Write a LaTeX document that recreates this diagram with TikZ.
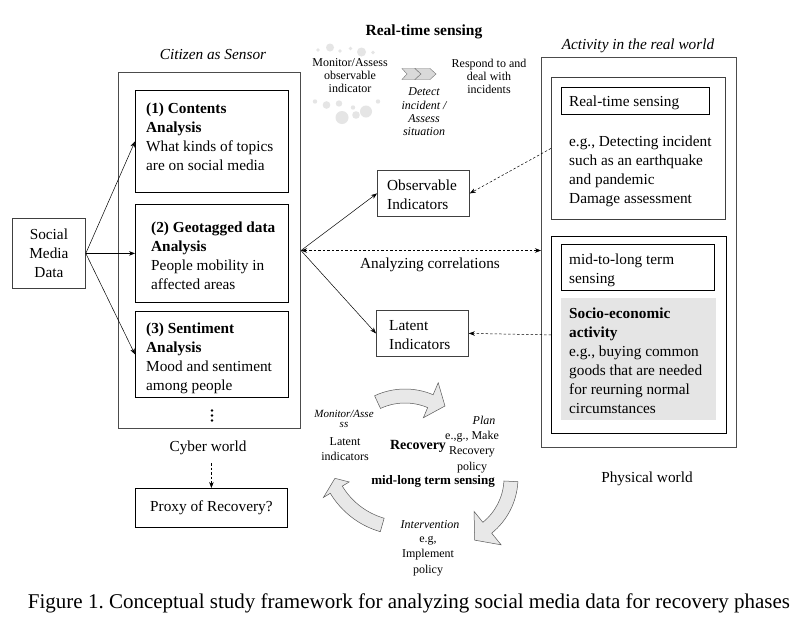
\documentclass[tikz,border=0pt]{standalone}
\usepackage{fontspec}
\setmainfont{Liberation Serif}
\usetikzlibrary{arrows.meta}
\frenchspacing
\begin{document}
\begin{tikzpicture}[x=1pt,y=-1pt,
 txt/.style={font=\fontsize{15.3pt}{19pt}\selectfont, inner sep=0pt, align=left, anchor=north west},
 ctr/.style={font=\fontsize{15.3pt}{19pt}\selectfont, inner sep=0pt, align=center},
 sm/.style={font=\fontsize{12pt}{13pt}\selectfont, inner sep=0pt, align=center},
 cy/.style={font=\fontsize{12pt}{15.5pt}\selectfont, inner sep=0pt, align=center},
 box/.style={draw=black, line width=0.8pt, inner sep=0pt, anchor=north west},
 obox/.style={draw=black!70, line width=1pt, inner sep=0pt, anchor=north west},
 arr/.style={-{Stealth[length=6pt,width=4.5pt]}, line width=0.5pt},
 darr/.style={arr, dash pattern=on 2.5pt off 2pt},
 ddarr/.style={{Stealth[length=6pt,width=4.5pt]}-{Stealth[length=6pt,width=4.5pt]}, line width=0.5pt, dash pattern=on 2.5pt off 2pt},
 cyc/.style={fill=black!9, draw=black!65, line width=0.5pt},
 dotc/.style={fill=black!10, draw=none},
 chev/.style={fill=black!15, draw=black!55, line width=0.4pt}]
\useasboundingbox (0,0) rectangle (809,619);
\fill[white] (0,0) rectangle (809,619);

% ---- top middle: real-time sensing ----
\foreach \px/\py/\r in {318/50/1.8, 330/47.5/4, 340/51/1.8, 350.5/48.5/1.8, 361.5/52/4.5, 373/52.5/1.8,
  315/101.5/2.2, 326.5/105/3.8, 339/103.5/3.2, 353/107.5/2.2, 366/111.5/6, 378/101.5/2.2, 342/117.5/6.5, 356/115/3.8}
  \fill[dotc] (\px,\py) circle[radius=\r];
\node[font=\bfseries\fontsize{15.5pt}{18pt}\selectfont, inner sep=0pt] (ttl) at (424,32) {Real-time sensing};
\node[sm] (mon) at (350,76) {Monitor/Assess\\observable\\indicator};
\filldraw[chev] (402,68.5) -- (415,68.5) -- (421,74) -- (415,79.5) -- (402,79.5) -- (407,74) -- cycle;
\filldraw[chev] (415,68.5) -- (430,68.5) -- (436,74) -- (430,79.5) -- (415,79.5) -- (421,74) -- cycle;
\node[sm, font=\itshape\fontsize{12pt}{13.3pt}\selectfont] (det) at (424,112) {Detect\\incident /\\Assess\\situation};
\node[sm] (resp) at (489,76) {Respond to and\\deal with\\incidents};

% ---- cyber world ----
\node[ctr, font=\itshape\fontsize{15.3pt}{19pt}\selectfont] (cas) at (213,55) {Citizen as Sensor};
\node[obox, minimum width=182pt, minimum height=356pt] (cyb) at (118,72) {};
\node[box, minimum width=153pt, minimum height=102pt] (b1) at (135,90) {};
\node[txt] (t1) at (146,103) {\textbf{(1) Contents}\\\textbf{Analysis}\\What kinds of topics\\are on social media};
\node[box, minimum width=153pt, minimum height=98pt] (b2) at (135,204) {};
\node[txt] (t2) at (151,221.5) {\textbf{(2) Geotagged data}\\\textbf{Analysis}\\People mobility in\\affected areas};
\node[box, minimum width=153pt, minimum height=86pt] (b3) at (135,311) {};
\node[txt] (t3) at (146,322.5) {\textbf{(3) Sentiment}\\\textbf{Analysis}\\Mood and sentiment\\among people};
\foreach \dy in {410.5,415.5,420.5} \fill (212,\dy) circle[radius=1.3];

\node[box, draw=black!75, minimum width=73pt, minimum height=70pt] (smd) at (12,218) {};
\node[ctr] (smdt) at (smd.center) {Social\\Media\\Data};
\draw[arr] (smd.east) -- (b1.west);
\draw[arr] (smd.east) -- (b2.west);
\draw[arr] (smd.east) -- (b3.west);

\node[ctr] (cw) at (208,448) {Cyber world};
\node[box, minimum width=152pt, minimum height=39pt] (proxy) at (135,488) {};
\node[ctr] (proxyt) at (proxy.center) {Proxy of Recovery?};
\draw[darr] ([yshift=-8pt]cw.south -| proxy.north) -- (proxy.north);

% ---- indicators ----
\node[box, draw=black!75, minimum width=92pt, minimum height=46pt] (obs) at (377,170) {};
\node[txt] (obst) at (387,180) {Observable\\Indicators};
\node[box, draw=black!75, minimum width=92pt, minimum height=46pt] (lat) at (376,310) {};
\node[txt] (latt) at (389,320) {Latent\\Indicators};
\node[ctr] (corr) at (430,265) {Analyzing correlations};

% ---- physical world ----
\node[ctr, font=\itshape\fontsize{15.3pt}{19pt}\selectfont] (act) at (638,46) {Activity in the real world};
\node[obox, minimum width=195pt, minimum height=390pt] (phys) at (541,57) {};
\node[box, draw=black!75, minimum width=174pt, minimum height=142pt] (rt) at (551,77) {};
\node[box, minimum width=148pt, minimum height=27pt] (rtin) at (561,87) {};
\node[txt] (rtint) at (569,96) {Real-time sensing};
\node[txt] (rtex) at (569,136) {e.g., Detecting incident\\such as an earthquake\\and pandemic\\Damage assessment};
\node[box, minimum width=175pt, minimum height=197pt] (mid) at (551,236) {};
\node[box, minimum width=153pt, minimum height=46pt] (midin) at (561,244) {};
\node[txt] (midint) at (569,254) {mid-to-long term\\sensing};
\node[box, draw=none, fill=black!10, minimum width=155pt, minimum height=122pt] (gray) at (561,298) {};
\node[txt] (grayt) at (569,308) {\textbf{Socio-economic}\\\textbf{activity}\\e.g., buying common\\goods that are needed\\for reurning normal\\circumstances};
\node[ctr] (pw) at (647,479) {Physical world};

\draw[arr] (cyb.east) -- (obs.west);
\draw[arr] (cyb.east) -- (lat.west);
\draw[ddarr] (cyb.east) -- (cyb.east -| phys.west);
\draw[darr] (rt.west) -- (obs.east);
\draw[darr] (mid.west) -- (lat.east);

% ---- recovery cycle ----
\begin{scope}[shift={(405,461)}]
\filldraw[cyc] (245:58) arc[start angle=245, end angle=293, radius=58] -- (293:47) -- (306:68) -- (293:85) -- (293:72) arc[start angle=293, end angle=245, radius=72] -- cycle;
\end{scope}
\begin{scope}[shift={(447,478)}]
\filldraw[cyc] (3:57) arc[start angle=3, end angle=51, radius=57] -- (51:43) -- (66:68) -- (51:86) -- (51:71) arc[start angle=51, end angle=3, radius=71] -- cycle;
\end{scope}
\begin{scope}[shift={(404,449)}]
\filldraw[cyc] (106:72) arc[start angle=106, end angle=149, radius=72] -- (149:64) -- (157:75) -- (149:94) -- (149:86) arc[start angle=149, end angle=106, radius=86] -- cycle;
\end{scope}

\node[cy, font=\itshape\fontsize{11pt}{10pt}\selectfont] (ma) at (344,419) {Monitor/Asse\\ss};
\node[cy] (li) at (345,449) {Latent\\indicators};
\node[font=\bfseries\fontsize{14pt}{16pt}\selectfont, inner sep=0pt] (rec) at (418,446) {Recovery};
\node[cy, font=\itshape\fontsize{12pt}{15pt}\selectfont] (plan) at (484,420) {Plan};
\node[cy] (mk) at (472,452) {e.,g., Make\\Recovery\\policy};
\node[font=\bfseries\fontsize{13pt}{15pt}\selectfont, inner sep=0pt] (mls) at (433,481) {mid-long term sensing};
\node[cy, font=\itshape\fontsize{12pt}{15pt}\selectfont] (int) at (430,525) {Intervention};
\node[cy] (imp) at (428,556) {e.g,\\Implement\\policy};

% ---- caption ----
\node[font=\fontsize{21pt}{24pt}\selectfont, inner sep=0pt] (cap) at (409,603) {Figure 1. Conceptual study framework for analyzing social media data for recovery phases};
\end{tikzpicture}
\end{document}
